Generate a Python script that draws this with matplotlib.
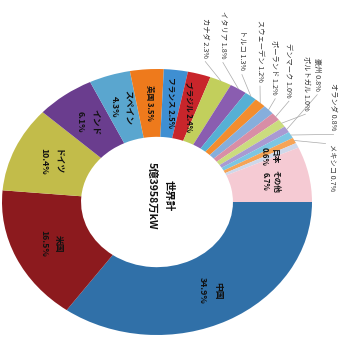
import numpy as np
import matplotlib
matplotlib.use("Agg")
import matplotlib.pyplot as plt

plt.rcParams['font.family'] = ['Noto Sans CJK JP', 'DejaVu Sans']

# World installed wind power capacity by country (share, %)
countries = ["中国", "米国", "ドイツ", "インド", "スペイン", "英国", "フランス", "ブラジル",
             "カナダ", "イタリア", "トルコ", "スウェーデン", "ポーランド", "デンマーク",
             "ポルトガル", "豪州", "オランダ", "メキシコ", "日本", "その他"]
shares = [34.9, 16.5, 10.4, 6.1, 4.3, 3.5, 2.5, 2.4,
          2.3, 1.8, 1.3, 1.2, 1.2, 1.0,
          1.0, 0.8, 0.8, 0.7, 0.6, 6.7]
total_label = "世界計\n5億3958万kW"

colors = ["#3070a8", "#8c1a1e", "#c2bc4a", "#6a3d8e", "#5aa6cf", "#ee7a1c", "#3f8fd2", "#c8252b",
          "#c2cf5c", "#8a5db0", "#56b0d4", "#f38d2e", "#86aedc", "#d88ea6",
          "#cbdc7e", "#a99ad2", "#7cc6e2", "#f6a456", "#cfd8ea", "#f5cad3"]

W, H = 358, 338
fig = plt.figure(figsize=(W / 100, H / 100), dpi=100)
fig.patch.set_facecolor("white")

# elliptical ring: centre (157, 202) px, radii 155 x 133 px
cx, cy, rx, ry = 157, 202, 155, 133
ax = fig.add_axes([(cx - rx) / W, (H - cy - ry) / H, 2 * rx / W, 2 * ry / H])

wedges, _ = ax.pie(shares, colors=colors, startangle=0, counterclock=False,
                   wedgeprops=dict(width=0.51, linewidth=0))
ax.set_aspect('auto')
ax.set_xlim(-1, 1)
ax.set_ylim(-1, 1)
ax.axis('off')

# labels inside the ring (two lines / one line)
two_line = {"中国", "米国", "ドイツ", "インド", "スペイン", "日本", "その他"}
one_line = {"英国", "フランス", "ブラジル"}
inner_r = {"日本": 0.80}
line_gap = {"日本": 1.3, "その他": 1.3}
inner_size = {"日本": 5.5, "その他": 5.5, "英国": 5.5, "フランス": 5.5, "ブラジル": 5.5}

# outer labels: anchor angle (deg) and radius
outer_pos = {
    "カナダ": (74.0, 1.13), "イタリア": (68.5, 1.16), "トルコ": (61.0, 1.13),
    "スウェーデン": (53.6, 1.12), "ポーランド": (46.6, 1.11), "デンマーク": (42.8, 1.16),
    "ポルトガル": (35.8, 1.18), "豪州": (39.0, 1.33), "オランダ": (25.3, 1.26),
    "メキシコ": (21.3, 1.21),
}

for w, name, v in zip(wedges, countries, shares):
    mid = np.deg2rad((w.theta1 + w.theta2) / 2)
    pct = f"{v:.1f}%"
    if name in two_line or name in one_line:
        r = inner_r.get(name, 0.75)
        txt = f"{name}\n{pct}" if name in two_line else f"{name} {pct}"
        ax.text(r * np.cos(mid), r * np.sin(mid), txt, rotation=270,
                ha='center', va='center', multialignment='center',
                fontsize=inner_size.get(name, 6.3), fontweight='bold', color='#111111',
                linespacing=line_gap.get(name, 1.8))
    else:
        a, r = outer_pos[name]
        ar = np.deg2rad(a)
        tx, ty = r * np.cos(ar), r * np.sin(ar)
        va = 'top' if name == "メキシコ" else 'bottom'
        ax.text(tx, ty, f"{name} {pct}", rotation=270, ha='center', va=va,
                fontsize=5.2, color='#333333')
        ex, ey = 1.0 * np.cos(mid), 1.0 * np.sin(mid)
        lx = tx
        ly = ty - 0.03 if va == 'bottom' else ty
        if name == "メキシコ":
            lx = tx - 0.04
        ax.plot([lx, ex], [ly, ey], color='#aaaaaa', lw=0.5, clip_on=False)

ax.text(0.02, 0.05, total_label, rotation=270, ha='center', va='center',
        multialignment='center', fontsize=7.5, fontweight='bold', color='#111111',
        linespacing=1.8)

fig.savefig("out.png", dpi=100, facecolor="white")
